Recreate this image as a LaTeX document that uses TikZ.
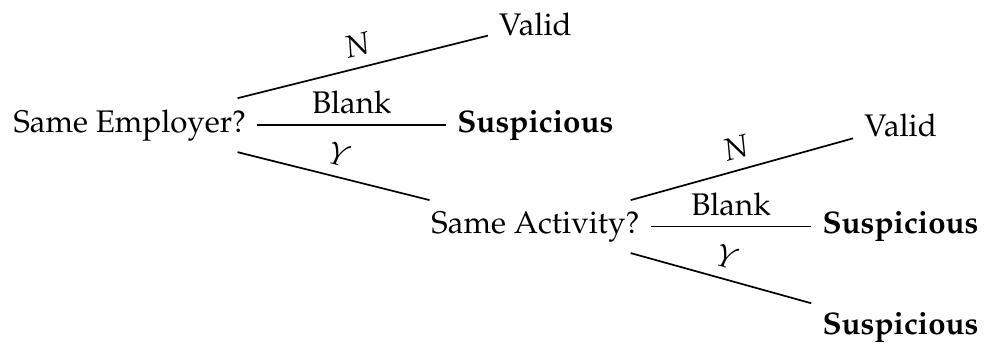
\documentclass[tikz,border=0pt,11pt]{standalone}
\usepackage[T1]{fontenc}
\usepackage{mathpazo}
\usetikzlibrary{positioning}

\begin{document}
\begin{tikzpicture}[on grid,
    answer/.style={above, sloped},
    flag/.style={font=\bfseries},
    every path/.style={semithick}]
        % NODES
        % -----------------
        
        \node (employer) {Same Employer?};
        \node[above right=1.25cm and 5cm of employer] (valid_e) {Valid};
        \node[flag, right=5cm of employer] (susp_e) {Suspicious};
        \node[below right=1.25cm and 5cm of employer] (activity) {Same Activity?};
        \node[above right=1.25cm and 4.5cm of activity] (valid_a) {Valid};
        \node[flag, right=4.5cm of activity] (susp_a) {Suspicious};
        \node[flag, below right=1.25cm and 4.5cm of activity] (susp_ay) {Suspicious};
        
        % EDGES
        % -----------------
        \draw (employer) -- node[answer] {$N$} (valid_e);
        \draw (employer) -- node[answer] {Blank} (susp_e);
        \draw (employer) -- node[answer] {$Y$} (activity);
        \draw (activity) -- node[answer] {$N$} (valid_a);
        \draw (activity) -- node[answer] {Blank} (susp_a);
        \draw (activity) -- node[answer] {$Y$} (susp_ay);
        
        \useasboundingbox ([shift={(-45.5pt,43.9pt)}]employer.center) rectangle ([shift={(299.1pt,-77.4pt)}]employer.center);
    \end{tikzpicture}
\end{document}
